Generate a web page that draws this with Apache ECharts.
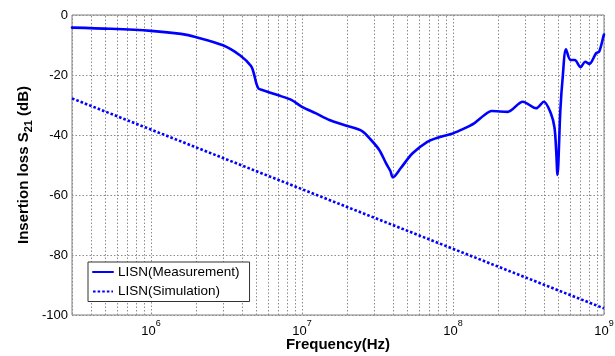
<!DOCTYPE html>
<html>
<head>
<meta charset="utf-8">
<script src="https://cdn.jsdelivr.net/npm/echarts@6/dist/echarts.min.js"></script>
<style>
  html, body { margin: 0; padding: 0; background: #fff; }
  #chart { width: 615px; height: 356px; }
</style>
</head>
<body>
<div id="chart"></div>
<script>
// Measured S21 of the LISN, [frequency in Hz, dB]
const measurement = [
  [3e5, -4.2], [5.4e5, -4.6], [1e6, -5.3], [1.58e6, -6.3], [2e6, -7.4],
  [3e6, -10.1], [3.9e6, -13.5], [4.6e6, -17.0], [4.8e6, -19.5], [5.0e6, -23.0],
  [5.15e6, -24.5], [5.4e6, -24.9], [6.9e6, -26.7], [8.5e6, -28.3], [1.0e7, -30.6],
  [1.24e7, -32.8], [1.52e7, -35.0], [2.0e7, -37.0], [2.5e7, -38.7], [2.85e7, -41.5],
  [3.25e7, -45.0], [3.6e7, -49.4], [3.85e7, -52.0], [4.0e7, -54.1], [4.5e7, -51.1],
  [5.4e7, -46.1], [6.8e7, -42.2], [8.0e7, -40.8], [9.7e7, -39.7], [1.13e8, -38.3],
  [1.38e8, -36.1], [1.6e8, -33.5], [1.8e8, -32.0], [2.3e8, -32.3], [2.9e8, -28.9],
  [3.55e8, -31.1], [4.0e8, -28.9], [4.45e8, -32.8], [4.7e8, -37.5], [4.82e8, -45.0],
  [4.92e8, -53.3], [5.14e8, -31.7], [5.33e8, -20.6], [5.6e8, -11.4], [6.0e8, -15.0],
  [6.4e8, -15.0], [7.0e8, -17.4], [7.5e8, -15.6], [8.0e8, -16.3], [8.85e8, -12.8],
  [9.3e8, -12.2], [9.95e8, -6.8], [1e9, -6.5]
];

// Simulated S21 (straight -20 dB/decade roll-off)
const simulation = [[3e5, -27.8], [1e9, -97.8]];

const seriesNames = ['LISN(Measurement)', 'LISN(Simulation)'];
const yTicks = { min: -100, max: 0, step: 20 };
const xRange = { min: 3e5, max: 1e9 };

// Minor log grid lines at 2..9 x 10^n inside the x range
const minorGrid = [];
for (let d = 5; d <= 8; d++) {
  for (let m = 2; m <= 9; m++) {
    const v = m * Math.pow(10, d);
    if (v > xRange.min && v < xRange.max) minorGrid.push({ xAxis: v });
  }
}

const font = "'Liberation Sans', Arial, sans-serif";
const gridLine = { color: '#8c8c8c', width: 1, type: [1.5, 2] };

const chart = echarts.init(document.getElementById('chart'), null, { renderer: 'canvas' });
chart.setOption({
  animation: false,
  backgroundColor: '#fff',
  textStyle: { fontFamily: font },
  grid: {
    left: 72, right: 11, top: 15, bottom: 41,
    containLabel: false,
    outerBoundsMode: 'none',
    show: true, borderColor: '#808080', borderWidth: 1, backgroundColor: '#fff'
  },
  legend: {
    orient: 'vertical',
    left: 88, top: 262,
    padding: [3, 10, 3, 4],
    itemWidth: 20, itemHeight: 14, itemGap: 5.5,
    backgroundColor: '#fff',
    borderColor: '#333', borderWidth: 1, borderRadius: 0,
    itemStyle: { opacity: 0 },
    textStyle: { fontFamily: font, fontSize: 13.5, color: '#000' },
    data: seriesNames
  },
  xAxis: {
    type: 'log', logBase: 10,
    min: xRange.min, max: xRange.max,
    axisLine: { show: false },
    axisTick: { show: false },
    splitLine: { show: true, lineStyle: gridLine },
    axisLabel: {
      margin: 4,
      formatter: function (v) {
        const e = Math.log10(v);
        if (Math.abs(e - Math.round(e)) > 1e-6) return '';
        return '{b|10}{s|' + Math.round(e) + '}';
      },
      rich: {
        b: { fontFamily: font, fontSize: 13, color: '#000' },
        s: { fontFamily: font, fontSize: 9, color: '#000', padding: [0, 0, 15, 0] }
      }
    },
    name: 'Frequency(Hz)',
    nameLocation: 'middle',
    nameMoveOverlap: false,
    nameGap: 22,
    nameTextStyle: { fontFamily: font, fontSize: 15, fontWeight: 'bold', color: '#000' }
  },
  yAxis: {
    type: 'value',
    min: yTicks.min, max: yTicks.max, interval: yTicks.step,
    axisLine: { show: false },
    axisTick: { show: false },
    splitLine: { show: true, lineStyle: gridLine },
    axisLabel: { margin: 4, fontFamily: font, fontSize: 13, color: '#000' },
    name: '{a|Insertion loss S}{b|21}{a| (dB)}',
    nameLocation: 'middle',
    nameMoveOverlap: false,
    nameRotate: 90,
    nameGap: 38,
    nameTextStyle: {
      rich: {
        a: { fontFamily: font, fontSize: 15, fontWeight: 'bold', color: '#000' },
        b: { fontFamily: font, fontSize: 11, fontWeight: 'bold', color: '#000', padding: [9, 0, 0, 0] }
      }
    }
  },
  series: [
    {
      name: seriesNames[0],
      type: 'line',
      data: measurement,
      symbol: 'none',
      smooth: 0.3,
      z: 3,
      itemStyle: { color: '#0000ff' },
      lineStyle: { color: '#0000ff', width: 2.6, join: 'round', cap: 'round' }
    },
    {
      name: seriesNames[1],
      type: 'line',
      data: simulation,
      symbol: 'none',
      z: 3,
      itemStyle: { color: '#0000ff' },
      lineStyle: { color: '#0000ff', width: 2.6, type: [2.6, 2], cap: 'butt' },
      markLine: {
        silent: true,
        z: 1,
        symbol: ['none', 'none'],
        label: { show: false },
        emphasis: { disabled: true },
        lineStyle: gridLine,
        data: minorGrid
      }
    }
  ]
});
</script>
</body>
</html>
